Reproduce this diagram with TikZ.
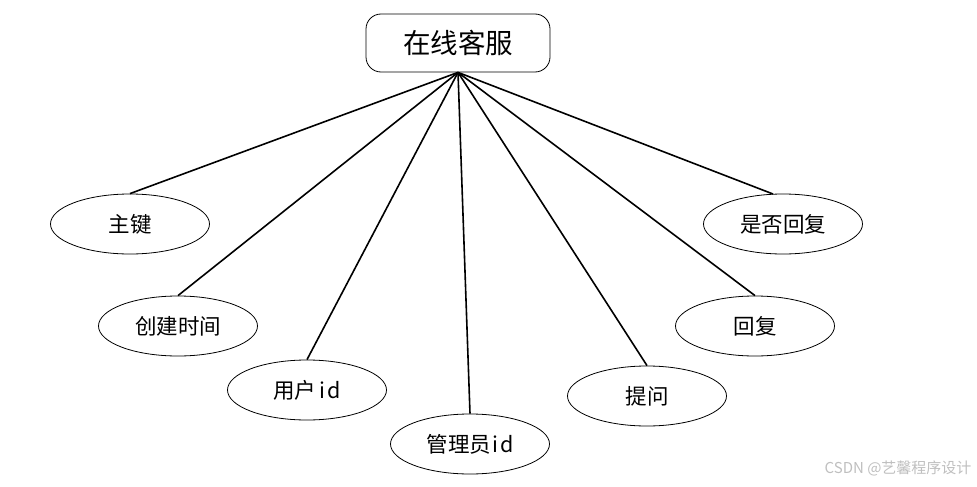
\documentclass[tikz,border=0pt]{standalone}
\usepackage{fontspec}
\newfontfamily\cjk{Noto Sans CJK SC}
\usetikzlibrary{shapes.geometric}
\begin{document}
\begin{tikzpicture}[x=1pt,y=-1pt,
  attr/.style={draw=black,line width=0.8pt,ellipse,minimum width=159pt,minimum height=60pt,inner sep=0pt,font=\cjk\fontsize{21.5}{24}\selectfont},
  ent/.style={draw=black,line width=0.8pt,rounded corners=15pt,minimum width=184pt,minimum height=58pt,inner sep=0pt,font=\cjk\fontsize{27.5}{30}\selectfont},
  link/.style={line width=1.6pt}]
\useasboundingbox (0,0) rectangle (977,487);
\node[ent] (e) at (458,43) {在线客服};
\node[attr] (a1) at (130,224) {主键};
\node[attr] (a2) at (178,326) {创建时间};
\node[attr] (a3) at (307,390) {用户\hspace{3pt}i\hspace{2pt}d};
\node[attr] (a4) at (470,444) {管理员\hspace{1pt}i\hspace{2pt}d};
\node[attr] (a5) at (647,396) {提问};
\node[attr] (a6) at (755,326) {回复};
\node[attr] (a7) at (783,224) {是否回复};
\coordinate (c7) at (773,194);
\foreach \n in {a1,a2,a3,a4,a5,a6}{\draw[link] (e.south) -- (\n.north);}
\draw[link] (e.south) -- (c7);
\node[text=black!25,font=\cjk\fontsize{15}{17}\selectfont,anchor=east] (wm) at (975,468) {CSDN @艺馨程序设计};
\end{tikzpicture}
\end{document}
